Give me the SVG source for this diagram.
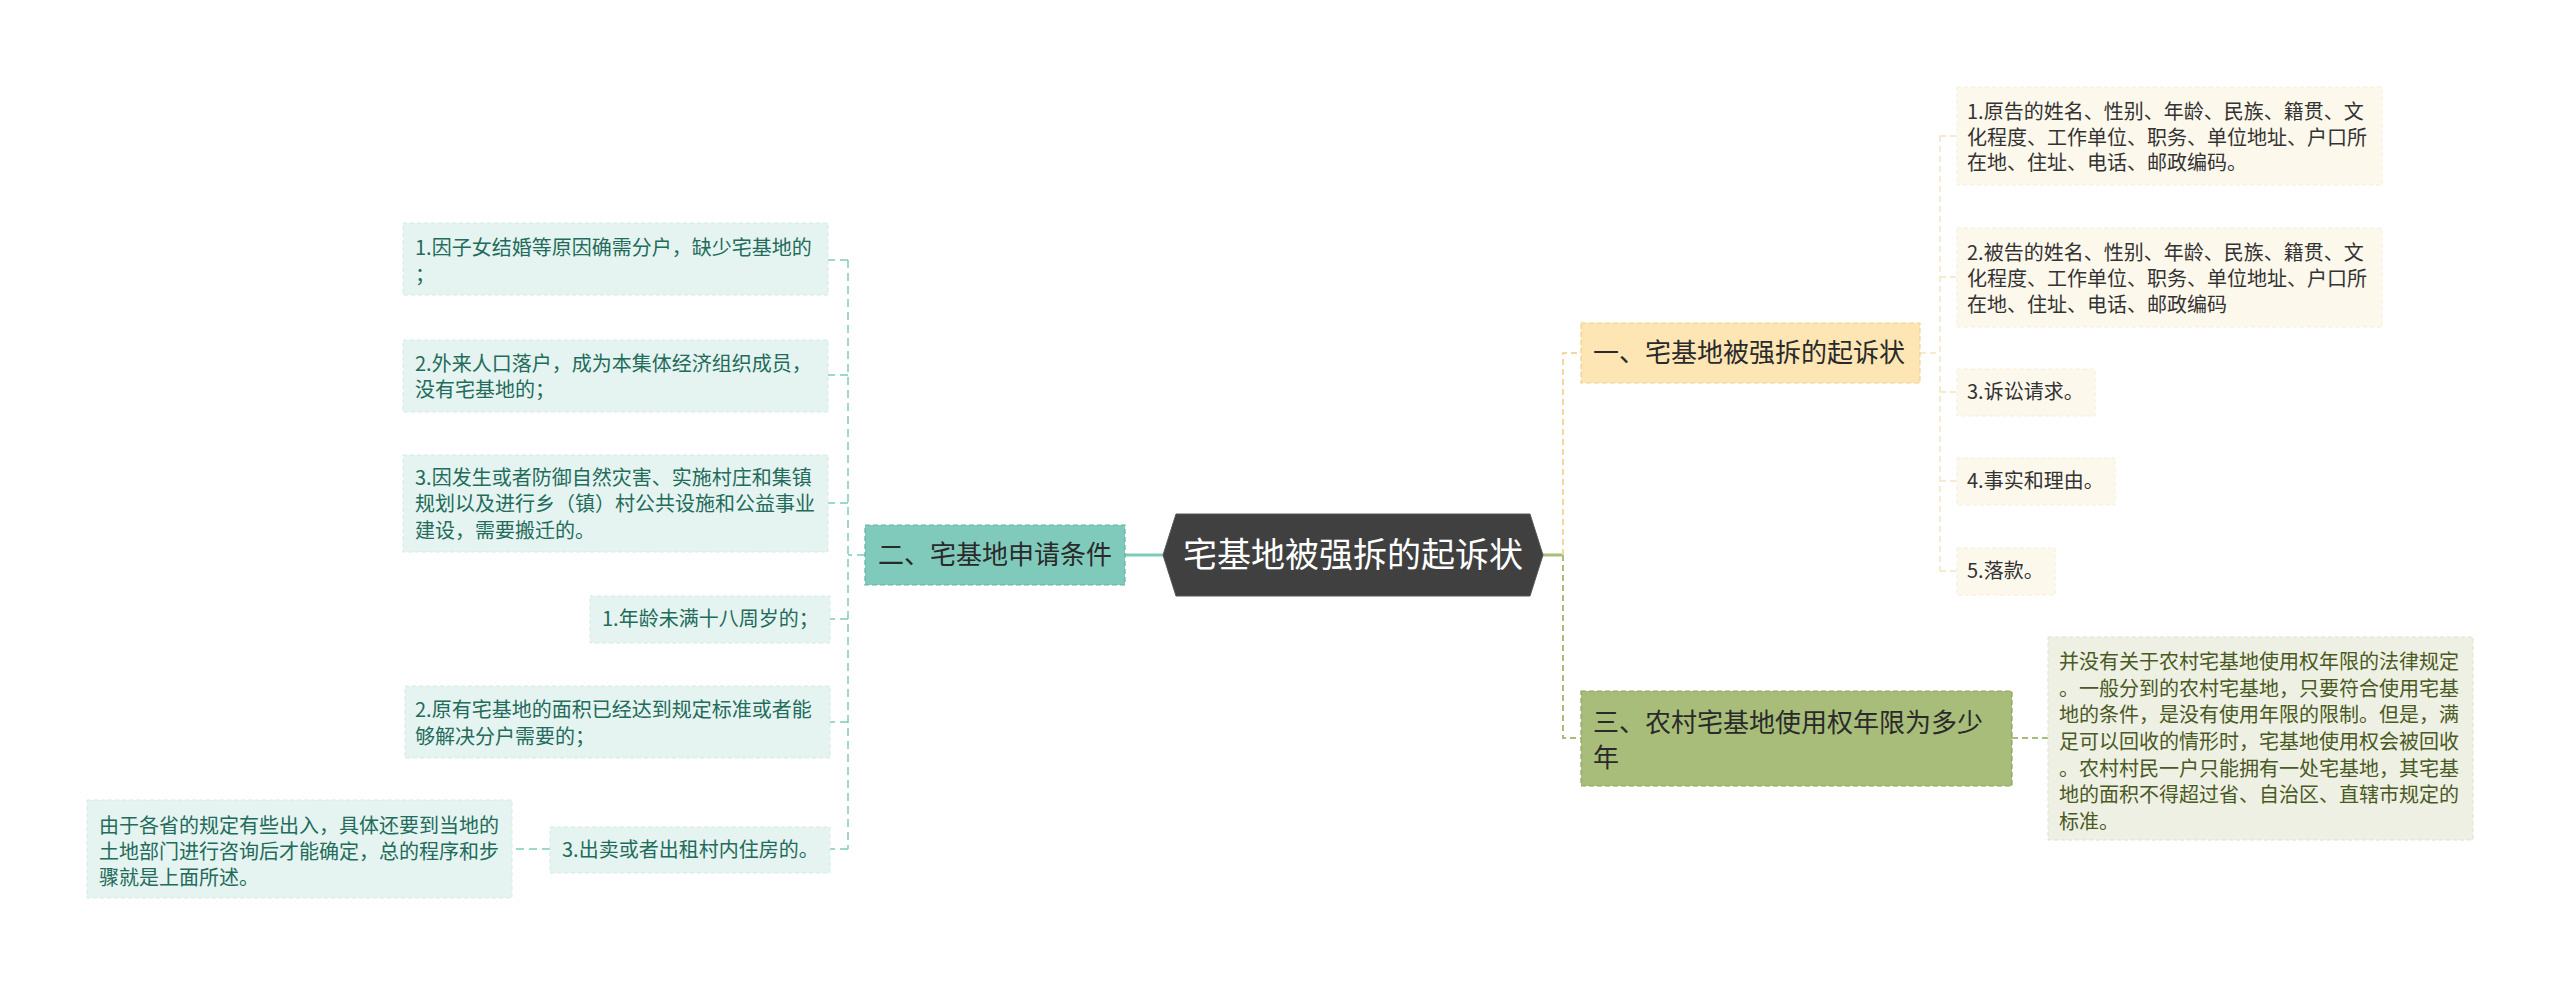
<svg xmlns="http://www.w3.org/2000/svg" width="2560" height="986" viewBox="0 0 2560 986">
<style>
text{font-family:"Noto Sans CJK SC","Microsoft YaHei",sans-serif;}
.root{fill:#ffffff;font-size:34px;text-anchor:middle;}
.b1{fill:#fde5b4;stroke:#f1d08c;stroke-width:1.2;stroke-dasharray:5 3;}
.b2{fill:#7fcabb;stroke:#62b3a2;stroke-width:1.2;stroke-dasharray:5 3;}
.b3{fill:#a7bd79;stroke:#8ea35e;stroke-width:1.2;stroke-dasharray:5 3;}
.bt{font-size:26px;fill:#2a2a2a;}
.c1{fill:#fdf8ec;stroke:#f6eed8;stroke-width:1;stroke-dasharray:4 3;}
.c2{fill:#e5f4f0;stroke:#d2ebe4;stroke-width:1;stroke-dasharray:4 3;}
.c3{fill:#eef0e4;stroke:#dfe3cf;stroke-width:1;stroke-dasharray:4 3;}
.t1{font-size:20px;fill:#333333;}
.t2{font-size:20px;fill:#236b5b;}
.t3{font-size:20px;fill:#4a5a23;}
.ly{fill:none;stroke:#f3d89e;stroke-width:2;stroke-dasharray:6 4;}
.lyc{fill:none;stroke:#f3e4c0;stroke-width:1.5;stroke-dasharray:6 4;}
.lg{fill:none;stroke:#a7bd79;stroke-width:2;stroke-dasharray:6 4;}
.lt{fill:none;stroke:#7fcabb;stroke-width:1.5;stroke-dasharray:8 5;}
</style>
<rect width="2560" height="986" fill="#ffffff"/>
<g id="connectors">
  <line x1="1125" y1="555" x2="1163" y2="555" stroke="#7fcabb" stroke-width="3"/>
  <line x1="1543" y1="555" x2="1563" y2="555" stroke="#a7bd79" stroke-width="3"/>
  <path class="ly" d="M1563,555 V353 H1581"/>
  <path class="lg" d="M1563,555 V738 H1581"/>
  <path class="lyc" d="M1920,353 H1940 M1940,136 V571 M1940,136 H1957 M1940,277 H1957 M1940,392 H1957 M1940,481 H1957 M1940,571 H1957"/>
  <path class="lg" d="M2012,738 H2048" stroke-width="1.5"/>
  <path class="lt" d="M865,555 H848 M848,260 V849 M848,260 H828 M848,375 H828 M848,503 H828 M848,619 H830 M848,722 H830 M848,849 H830 M550,849 H512"/>
</g>
<g id="root">
  <polygon points="1163,555 1176,514 1530,514 1543,555 1530,596 1176,596" fill="#404040" stroke="#555555" stroke-width="1"/>
  <text class="root" x="1353" y="567">宅基地被强拆的起诉状</text>
</g>
<g id="branch1">
  <rect class="b1" x="1581" y="323" width="339" height="60"/>
  <text class="bt" x="1593" y="362">一、宅基地被强拆的起诉状</text>
</g>
<g id="branch2">
  <rect class="b2" x="865" y="525" width="260" height="60"/>
  <text class="bt" x="878" y="564">二、宅基地申请条件</text>
</g>
<g id="branch3">
  <rect class="b3" x="1581" y="691" width="431" height="95"/>
  <text class="bt" x="1593" y="732">三、农村宅基地使用权年限为多少</text>
  <text class="bt" x="1593" y="767">年</text>
</g>
<g id="r1">
  <rect class="c1" x="1957" y="87" width="425" height="98"/>
  <text class="t1" x="1967" y="119">1.原告的姓名、性别、年龄、民族、籍贯、文</text>
  <text class="t1" x="1967" y="145">化程度、工作单位、职务、单位地址、户口所</text>
  <text class="t1" x="1967" y="170">在地、住址、电话、邮政编码。</text>
</g>
<g id="r2">
  <rect class="c1" x="1957" y="228" width="425" height="99"/>
  <text class="t1" x="1967" y="260">2.被告的姓名、性别、年龄、民族、籍贯、文</text>
  <text class="t1" x="1967" y="286">化程度、工作单位、职务、单位地址、户口所</text>
  <text class="t1" x="1967" y="312">在地、住址、电话、邮政编码</text>
</g>
<g id="r3">
  <rect class="c1" x="1957" y="369" width="138" height="47"/>
  <text class="t1" x="1967" y="399">3.诉讼请求。</text>
</g>
<g id="r4">
  <rect class="c1" x="1957" y="458" width="158" height="47"/>
  <text class="t1" x="1967" y="488">4.事实和理由。</text>
</g>
<g id="r5">
  <rect class="c1" x="1957" y="548" width="98" height="47"/>
  <text class="t1" x="1967" y="578">5.落款。</text>
</g>
<g id="r6">
  <rect class="c3" x="2048" y="637" width="425" height="203"/>
  <text class="t3" x="2059" y="669">并没有关于农村宅基地使用权年限的法律规定</text>
  <text class="t3" x="2059" y="696">。一般分到的农村宅基地，只要符合使用宅基</text>
  <text class="t3" x="2059" y="722">地的条件，是没有使用年限的限制。但是，满</text>
  <text class="t3" x="2059" y="749">足可以回收的情形时，宅基地使用权会被回收</text>
  <text class="t3" x="2059" y="776">。农村村民一户只能拥有一处宅基地，其宅基</text>
  <text class="t3" x="2059" y="802">地的面积不得超过省、自治区、直辖市规定的</text>
  <text class="t3" x="2059" y="829">标准。</text>
</g>
<g id="l1">
  <rect class="c2" x="403" y="223" width="425" height="72"/>
  <text class="t2" x="415" y="255">1.因子女结婚等原因确需分户，缺少宅基地的</text>
  <text class="t2" x="415" y="282">；</text>
</g>
<g id="l2">
  <rect class="c2" x="403" y="340" width="425" height="72"/>
  <text class="t2" x="415" y="371">2.外来人口落户，成为本集体经济组织成员，</text>
  <text class="t2" x="415" y="397">没有宅基地的；</text>
</g>
<g id="l3">
  <rect class="c2" x="403" y="455" width="425" height="97"/>
  <text class="t2" x="415" y="485">3.因发生或者防御自然灾害、实施村庄和集镇</text>
  <text class="t2" x="415" y="511">规划以及进行乡（镇）村公共设施和公益事业</text>
  <text class="t2" x="415" y="538">建设，需要搬迁的。</text>
</g>
<g id="l4">
  <rect class="c2" x="590" y="596" width="240" height="47"/>
  <text class="t2" x="602" y="626">1.年龄未满十八周岁的；</text>
</g>
<g id="l5">
  <rect class="c2" x="405" y="686" width="425" height="72"/>
  <text class="t2" x="415" y="717">2.原有宅基地的面积已经达到规定标准或者能</text>
  <text class="t2" x="415" y="744">够解决分户需要的；</text>
</g>
<g id="l6">
  <rect class="c2" x="550" y="827" width="280" height="46"/>
  <text class="t2" x="562" y="857">3.出卖或者出租村内住房的。</text>
</g>
<g id="l7">
  <rect class="c2" x="87" y="800" width="425" height="98"/>
  <text class="t2" x="99" y="833">由于各省的规定有些出入，具体还要到当地的</text>
  <text class="t2" x="99" y="859">土地部门进行咨询后才能确定，总的程序和步</text>
  <text class="t2" x="99" y="885">骤就是上面所述。</text>
</g>
</svg>
